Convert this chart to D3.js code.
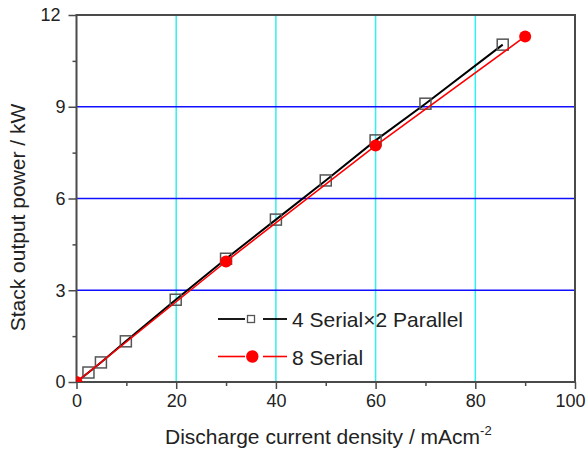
<!DOCTYPE html>
<html>
<head>
<meta charset="utf-8">
<script src="https://cdn.jsdelivr.net/npm/d3@7"></script>
<style>
  html, body { margin: 0; padding: 0; background: #fff; }
  svg { display: block; font-family: "Liberation Sans", Arial, sans-serif; }
</style>
</head>
<body>
<svg id="chart" width="586" height="452"></svg>
<script>
// ---- data ----
const parallelX = [0, 2.4, 4.9, 9.9, 19.9, 30, 40, 50, 60, 70, 85.5];
const parallelY = [0, 0.31, 0.64, 1.33, 2.69, 4.03, 5.31, 6.59, 7.90, 9.10, 11.03];
const serialX = [0, 30, 60, 90];
const serialY = [0, 3.94, 7.73, 11.30];
const xTicks = [0, 20, 40, 60, 80, 100];
const yTicks = [0, 3, 6, 9, 12];
const xMinorTicks = [10, 30, 50, 70, 90];
const yMinorTicks = [1.5, 4.5, 7.5, 10.5];
const xGrid = [20, 40, 60, 80];
const yGrid = [3, 6, 9];
const seriesNames = ["4 Serial\u00d72 Parallel", "8 Serial"];

// ---- layout ----
const L = 76.5, R = 575, T = 15, B = 382;
const svg = d3.select("#chart");
const x = d3.scaleLinear().domain([0, 100]).range([L, R]);
const y = d3.scaleLinear().domain([0, 12]).range([B, T]);
const axisColor = "#4a4a4a";

svg.append("defs").append("clipPath").attr("id", "plotclip")
  .append("rect").attr("x", L).attr("y", T).attr("width", R - L).attr("height", B - T);

// gridlines
svg.append("g").selectAll("line").data(xGrid).join("line")
  .attr("x1", d => x(d)).attr("x2", d => x(d))
  .attr("y1", T).attr("y2", B)
  .attr("stroke", "#30f0f0").attr("stroke-width", 1.5);
svg.append("g").selectAll("line").data(yGrid).join("line")
  .attr("x1", L).attr("x2", R)
  .attr("y1", d => y(d)).attr("y2", d => y(d))
  .attr("stroke", "#1010ff").attr("stroke-width", 1.5);

// axes
const fs = 18;
const xAxis = svg.append("g").attr("transform", `translate(0,${B})`)
  .call(d3.axisBottom(x).tickValues(xTicks).tickSize(7).tickPadding(5).tickFormat(d3.format("d")));
const xMinor = svg.append("g").attr("transform", `translate(0,${B})`)
  .call(d3.axisBottom(x).tickValues(xMinorTicks).tickSize(4).tickFormat(""));
const yAxis = svg.append("g").attr("transform", `translate(${L},0)`)
  .call(d3.axisLeft(y).tickValues(yTicks).tickSize(8).tickPadding(3).tickFormat(d3.format("d")));
const yMinor = svg.append("g").attr("transform", `translate(${L},0)`)
  .call(d3.axisLeft(y).tickValues(yMinorTicks).tickSize(4).tickFormat(""));
[xAxis, xMinor, yAxis, yMinor].forEach(g => {
  g.select(".domain").remove();
  g.selectAll(".tick line").attr("stroke", axisColor).attr("stroke-width", 1.5);
  g.selectAll(".tick text").attr("fill", "#222").style("font-size", fs + "px")
    .style("font-family", '"Liberation Sans", Arial, sans-serif');
});
// keep the last x label inside the page
xAxis.selectAll(".tick text").filter(d => d === 100).attr("dx", -5);
yAxis.selectAll(".tick text").filter(d => d === 12).attr("dx", -5);

// frame
svg.append("rect").attr("x", L).attr("y", T).attr("width", R - L).attr("height", B - T)
  .attr("fill", "none").attr("stroke", axisColor).attr("stroke-width", 2);

// series
const plot = svg.append("g").attr("clip-path", "url(#plotclip)");
const pData = parallelX.map((v, i) => [v, parallelY[i]]);
const sData = serialX.map((v, i) => [v, serialY[i]]);
const line = d3.line().x(d => x(d[0])).y(d => y(d[1]));

plot.append("path").datum(pData).attr("d", line)
  .attr("fill", "none").attr("stroke", "#000").attr("stroke-width", 2);
const sq = 11;
plot.append("g").selectAll("rect").data(pData.filter(d => d[0] > 0)).join("rect")
  .attr("x", d => x(d[0]) - sq / 2).attr("y", d => y(d[1]) - sq / 2)
  .attr("width", sq).attr("height", sq)
  .attr("fill", "none").attr("stroke", "#555").attr("stroke-width", 1.5);

plot.append("path").datum(sData).attr("d", line)
  .attr("fill", "none").attr("stroke", "#ff0000").attr("stroke-width", 1.6);
plot.append("g").selectAll("circle").data(sData).join("circle")
  .attr("cx", d => x(d[0])).attr("cy", d => y(d[1])).attr("r", 6)
  .attr("fill", "#ff0000");

// legend
const lg = svg.append("g");
const legY = [319, 356.5];
// black entry
lg.append("line").attr("x1", 218).attr("x2", 245).attr("y1", legY[0]).attr("y2", legY[0])
  .attr("stroke", "#000").attr("stroke-width", 1.8);
lg.append("line").attr("x1", 263).attr("x2", 287).attr("y1", legY[0]).attr("y2", legY[0])
  .attr("stroke", "#000").attr("stroke-width", 1.8);
lg.append("rect").attr("x", 251 - 3.5).attr("y", legY[0] - 3.5).attr("width", 7).attr("height", 7)
  .attr("fill", "#fff").attr("stroke", "#555").attr("stroke-width", 1.3);
// red entry
lg.append("line").attr("x1", 218).attr("x2", 245).attr("y1", legY[1]).attr("y2", legY[1])
  .attr("stroke", "#ff0000").attr("stroke-width", 1.6);
lg.append("line").attr("x1", 263).attr("x2", 287).attr("y1", legY[1]).attr("y2", legY[1])
  .attr("stroke", "#ff0000").attr("stroke-width", 1.6);
lg.append("circle").attr("cx", 252.3).attr("cy", legY[1]).attr("r", 6.2).attr("fill", "#ff0000");
lg.selectAll("text").data(seriesNames).join("text")
  .attr("x", 292).attr("y", (d, i) => legY[i] + 8.3)
  .attr("fill", "#222").style("font-size", "21px").text(d => d);

// axis titles
const xt = svg.append("text").attr("x", 165).attr("y", 444).attr("fill", "#222")
  .style("font-size", "21px");
xt.append("tspan").text("Discharge current density / mAcm");
xt.append("tspan").attr("dy", -9).style("font-size", "13px").text("-2");

svg.append("text").attr("transform", "translate(25,217.5) rotate(-90)")
  .attr("text-anchor", "middle").attr("fill", "#222").style("font-size", "21px")
  .text("Stack output power / kW");
</script>
</body>
</html>
